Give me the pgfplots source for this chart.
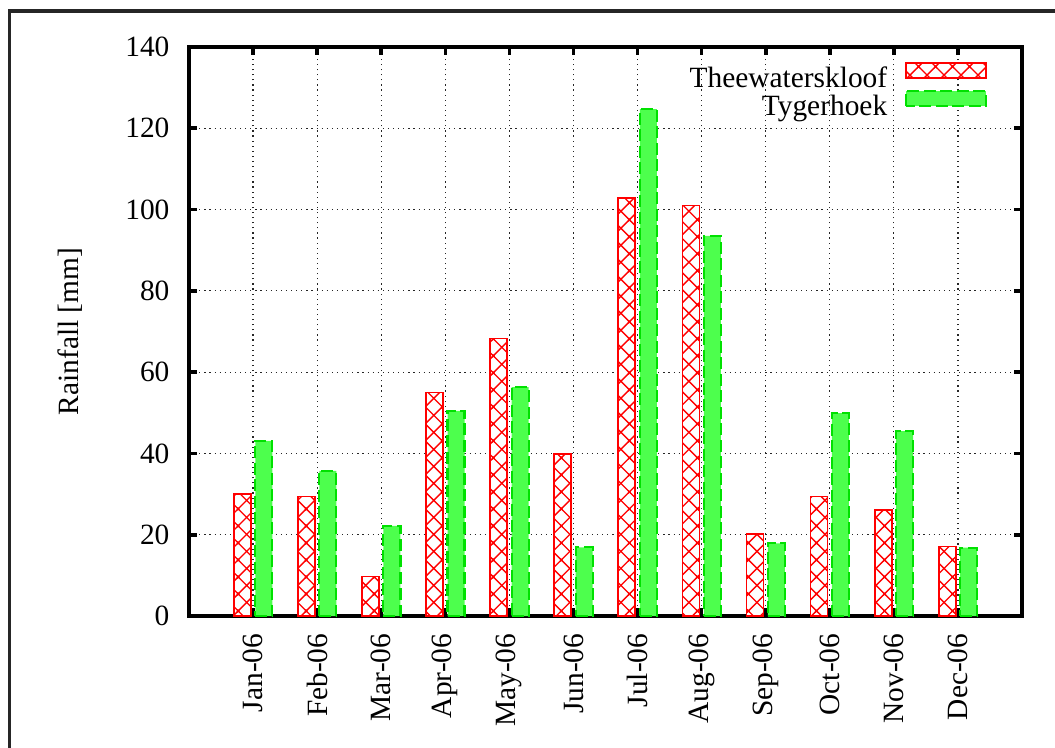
\documentclass[border=0pt]{standalone}
\usepackage{fontspec}
\setmainfont{Liberation Serif}
\usepackage{pgfplots}
\pgfplotsset{compat=1.18}
\usetikzlibrary{patterns}

% diagonal cross-hatch used for the first station
\pgfdeclarepatternformonly{diamondhatch}{\pgfpoint{-0.5pt}{-0.5pt}}{\pgfpoint{6.17pt}{6.17pt}}{\pgfpoint{5.67pt}{5.67pt}}{%
  \pgfsetlinewidth{0.45pt}%
  \pgfpathmoveto{\pgfpoint{-0.5pt}{-0.5pt}}%
  \pgfpathlineto{\pgfpoint{6.17pt}{6.17pt}}%
  \pgfpathmoveto{\pgfpoint{-0.5pt}{6.17pt}}%
  \pgfpathlineto{\pgfpoint{6.17pt}{-0.5pt}}%
  \pgfusepath{stroke}%
}

\definecolor{hatchred}{RGB}{255,0,0}
\definecolor{barfill}{RGB}{77,255,77}
\definecolor{baredge}{RGB}{0,225,0}

\pgfplotsset{
  boxlegend/.style={legend image code/.code={\draw[##1] (0pt,0.3pt) rectangle (26.7pt,5.3pt);}},
}

\begin{document}
\begin{tikzpicture}
\useasboundingbox (0,0) rectangle (351.667pt,249pt);
\begin{axis}[
  at={(63pt,43.667pt)}, anchor=south west,
  scale only axis, width=277.667pt, height=189.667pt,
  font=\fontsize{9.8}{11.8}\selectfont,
  xmin=-1, xmax=12, ymin=0, ymax=140,
  ytick={0,20,...,140},
  xtick={0,...,11},
  xticklabels={Jan-06,Feb-06,Mar-06,Apr-06,May-06,Jun-06,Jul-06,Aug-06,Sep-06,Oct-06,Nov-06,Dec-06},
  ybar=1.47pt, bar width=5.67pt,
  axis line style={line width=1.2pt},
  tick style={black, line width=1.2pt},
  major tick length=2.7pt,
  tick align=inside,
  grid=major,
  grid style={line width=0.4pt, black!85, dash pattern=on 0.4pt off 1.3pt},
  /pgf/number format/assume math mode=true,
  yticklabel style={inner sep=0pt}, yticklabel shift=6.33pt,
  xticklabel style={inner sep=0pt, rotate=90, anchor=east}, xticklabel shift=5.7pt,
  ylabel={Rainfall [mm]},
  ylabel style={at={(axis description cs:-0.1429,0.5)}, anchor=center},
  legend style={draw=none, fill=none, inner sep=0pt,
    at={(axis description cs:0.9588,0.974)}, anchor=north east,
    nodes={inner sep=0pt, font=\fontsize{9.8}{11.8}\selectfont}, row sep=-0.5pt, column sep=5.9pt},
  legend plot pos=right,
  legend cell align=right,
]
\addplot[draw=hatchred, line width=0.6pt, fill=white,
  postaction={pattern=diamondhatch, pattern color=hatchred}, boxlegend]
  coordinates {(0,30.0) (1,29.4) (2,9.7) (3,55.0) (4,68.3) (5,39.9)
               (6,102.8) (7,101.0) (8,20.1) (9,29.4) (10,26.0) (11,17.1)};
\addplot[draw=baredge, fill=barfill, line width=0.7pt, dash pattern=on 4pt off 1.5pt, boxlegend]
  coordinates {(0,43.1) (1,35.7) (2,22.2) (3,50.5) (4,56.3) (5,16.9)
               (6,124.7) (7,93.5) (8,17.9) (9,49.9) (10,45.5) (11,16.8)};
\legend{Theewaterskloof,Tygerhoek}
\end{axis}
% outer frame
\draw[line width=1.1pt, black!85] (3.07pt,-20pt) rectangle (400pt,245.33pt);
\end{tikzpicture}
\end{document}
